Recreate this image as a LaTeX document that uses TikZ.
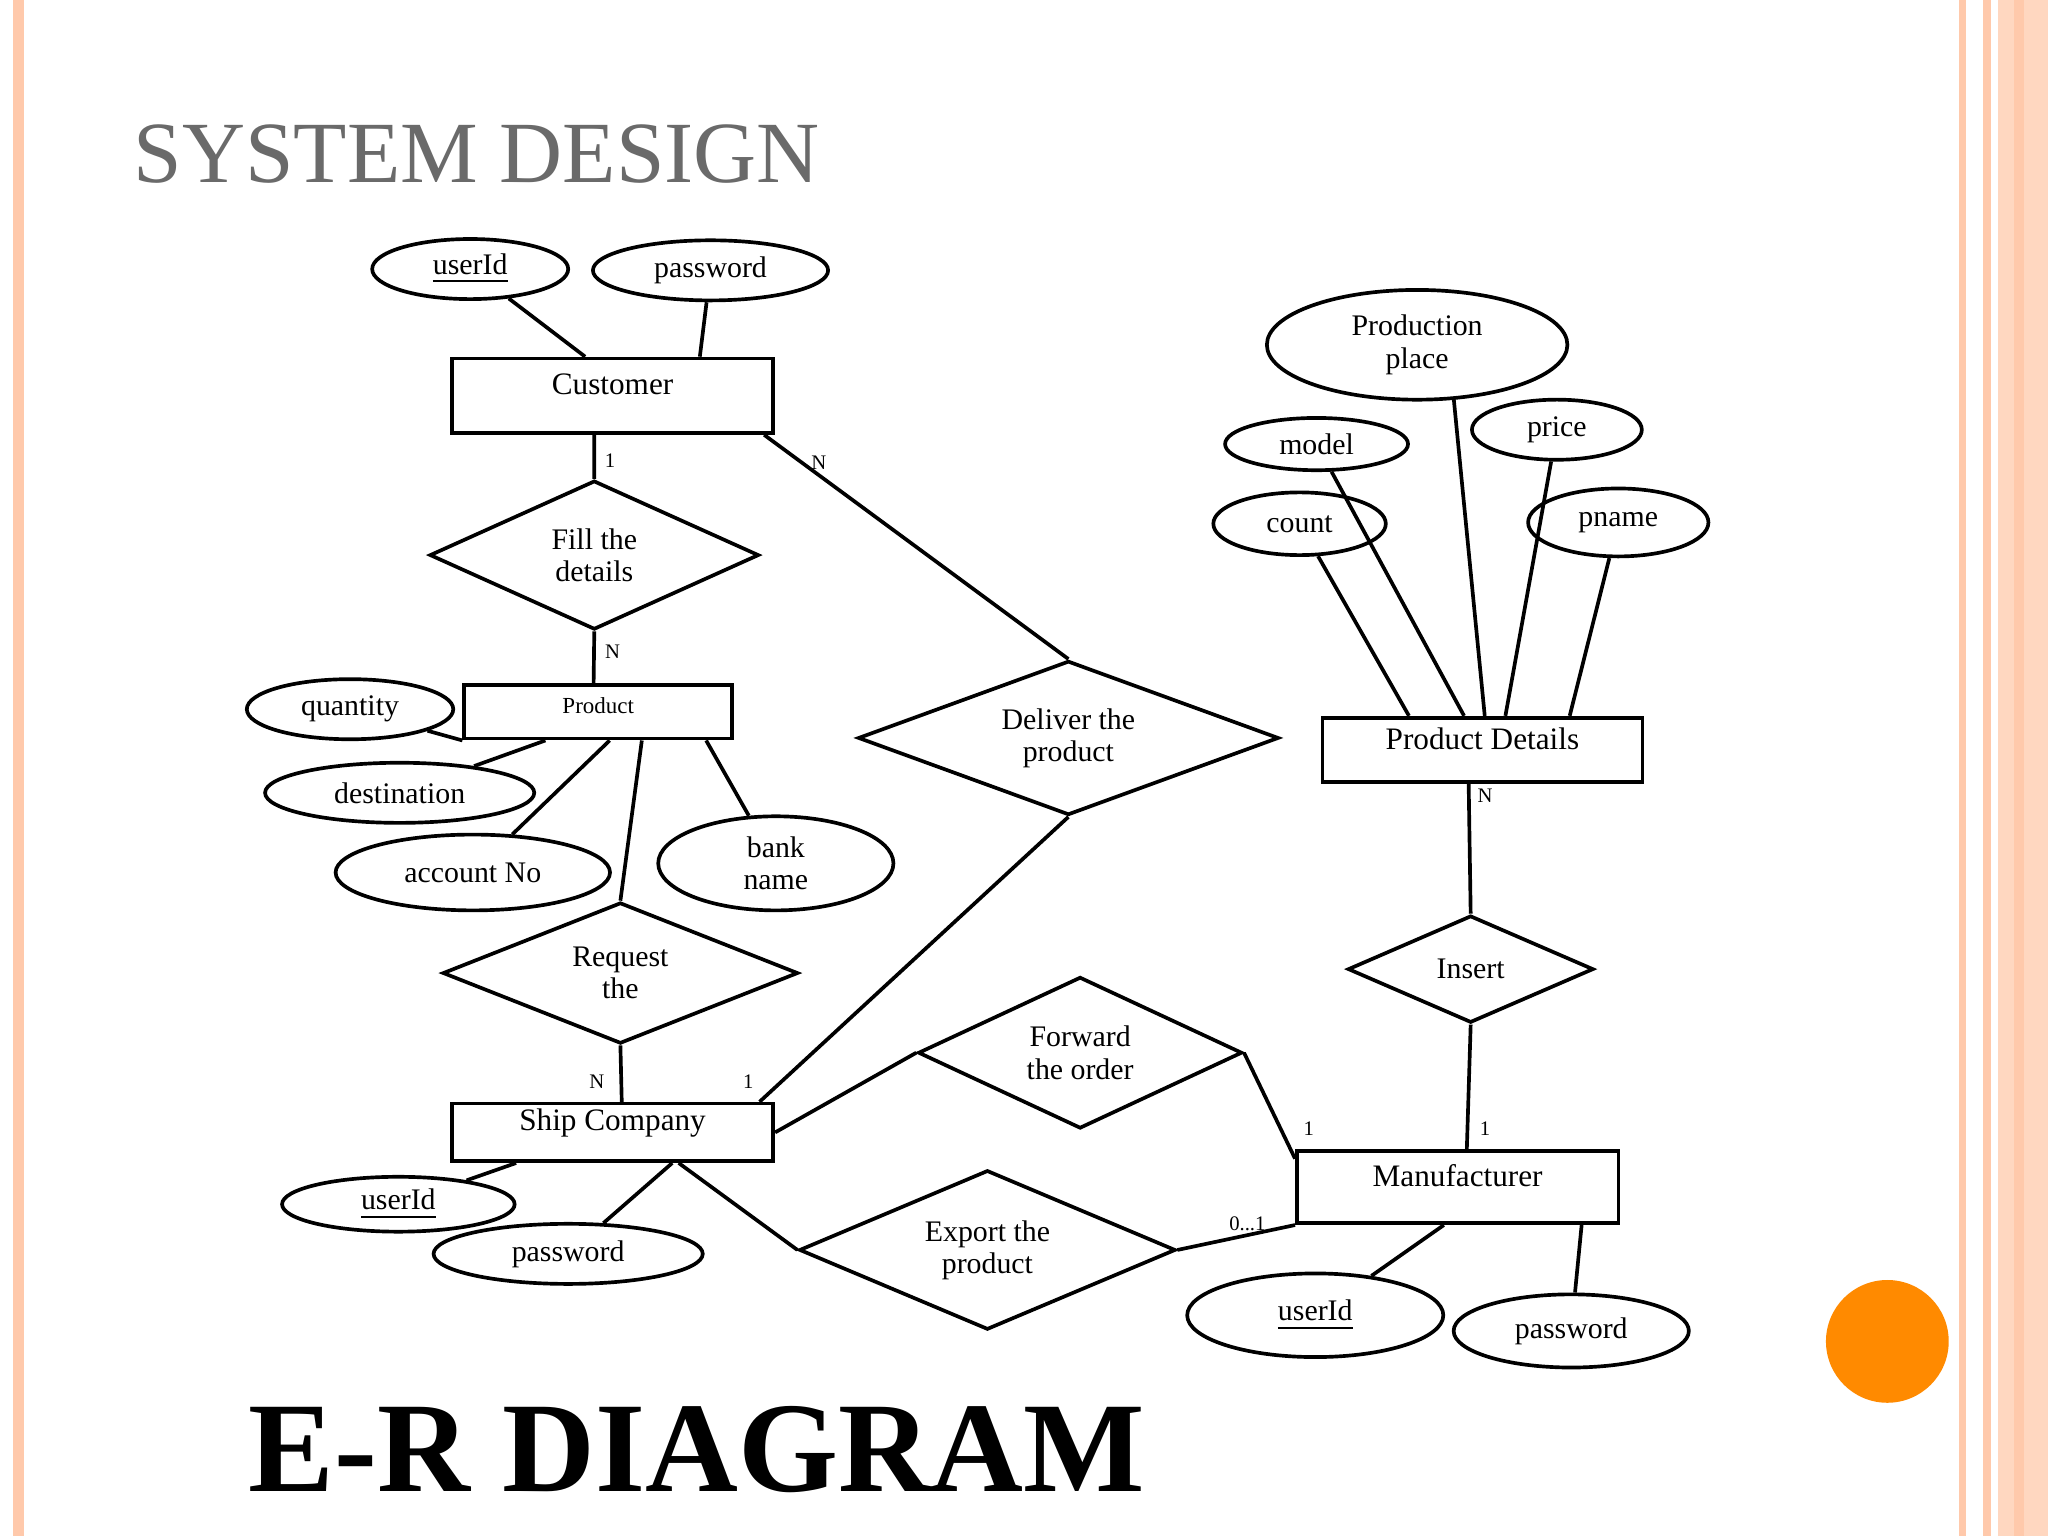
\documentclass[tikz,border=0pt]{standalone}
\usepackage{fontspec}
\setmainfont{Liberation Serif}
\usetikzlibrary{shapes.geometric}
\begin{document}
\begin{tikzpicture}[x=0.01cm,y=-0.01cm,
 ent/.style={draw,thick,rectangle,minimum width=#1,inner sep=0pt,font=\fontsize{6.8}{7}\selectfont},
 att/.style={draw,thick,ellipse,inner sep=0pt,font=\fontsize{6.5}{7}\selectfont,align=center},
 rel/.style={draw,thick,diamond,inner sep=0pt,aspect=2.2,font=\fontsize{6.5}{7}\selectfont,align=center},
 card/.style={font=\fontsize{4.5}{5}\selectfont},
 ln/.style={thick}]
\fill[white] (0,0) rectangle (1568,1176);
\useasboundingbox (0,0) rectangle (1568,1176);
% borders
\fill[orange!40!pink!60] (10,0) rectangle (18,1176);
\fill[orange!40!pink!60] (1500,0) rectangle (1505,1176);
\fill[orange!40!pink!60] (1518,0) rectangle (1524,1176);
\fill[orange!40!pink!45] (1530,0) rectangle (1568,1176);
\fill[orange!40!pink!60] (1542,0) rectangle (1550,1176);
\fill[orange!80!yellow!90!red] (1445,1027) circle (47);
\node[anchor=west,text=gray!70!black!90,font=\fontsize{19}{20}\selectfont] (title) at (90,118) {SYSTEM DESIGN};
\node[anchor=west,font=\bfseries\fontsize{28}{30}\selectfont] (er) at (178,1110) {E-R DIAGRAM};
% entities
\node[ent=246pt*0.2845,minimum height=57*0.2845pt] (cust) at (469,303) {};
\node at (469,294) {\fontsize{6.8}{7}\selectfont Customer};
\node[ent=205*0.2845pt,minimum height=41*0.2845pt] (prod) at (458,545) {};
\node at (458,540) {\fontsize{5}{6}\selectfont Product};
\node[ent=246*0.2845pt,minimum height=44*0.2845pt] (ship) at (469,867) {};
\node at (469,860) {\fontsize{6.8}{7}\selectfont Ship Company};
\node[ent=246*0.2845pt,minimum height=55*0.2845pt] (man) at (1116,909) {};
\node at (1116,900) {\fontsize{6.8}{7}\selectfont Manufacturer};
\node[ent=245*0.2845pt,minimum height=49*0.2845pt] (pd) at (1135,574) {};
\node at (1135,566) {\fontsize{6.8}{7}\selectfont Product Details};
% attributes
\node[att,minimum width=150*0.2845pt,minimum height=46*0.2845pt] (cu) at (360,206) {\underline{userId}};
\node[att,minimum width=180*0.2845pt,minimum height=46*0.2845pt] (cp) at (544,207) {password};
\node[att,minimum width=158*0.2845pt,minimum height=46*0.2845pt] (qty) at (268,543) {quantity};
\node[att,minimum width=206*0.2845pt,minimum height=46*0.2845pt] (dest) at (306,607) {destination};
\node[att,minimum width=210*0.2845pt,minimum height=58*0.2845pt] (acc) at (362,668) {account No};
\node[att,minimum width=180*0.2845pt,minimum height=72*0.2845pt] (bank) at (594,661) {bank\\name};
\node[att,minimum width=178*0.2845pt,minimum height=42*0.2845pt] (su) at (305,922) {\underline{userId}};
\node[att,minimum width=206*0.2845pt,minimum height=46*0.2845pt] (sp) at (435,960) {password};
\node[att,minimum width=196*0.2845pt,minimum height=64*0.2845pt] (mu) at (1007,1007) {\underline{userId}};
\node[att,minimum width=180*0.2845pt,minimum height=56*0.2845pt] (mp) at (1203,1019) {password};
\node[att,minimum width=230*0.2845pt,minimum height=84*0.2845pt] (pp) at (1085,264) {Production\\place};
\node[att,minimum width=140*0.2845pt,minimum height=40*0.2845pt] (model) at (1008,340) {model};
\node[att,minimum width=130*0.2845pt,minimum height=46*0.2845pt] (price) at (1192,329) {price};
\node[att,minimum width=132*0.2845pt,minimum height=48*0.2845pt] (count) at (995,401) {count};
\node[att,minimum width=138*0.2845pt,minimum height=52*0.2845pt] (pname) at (1239,400) {pname};
% relationships
\node[rel,minimum width=252*0.2845pt,minimum height=114*0.2845pt] (fill) at (455,425) {Fill the\\details};
\node[rel,minimum width=272*0.2845pt,minimum height=108*0.2845pt] (req) at (475,745) {Request\\the};
\node[rel,minimum width=322*0.2845pt,minimum height=118*0.2845pt] (del) at (818,565) {Deliver the\\product};
\node[rel,minimum width=248*0.2845pt,minimum height=116*0.2845pt] (fwd) at (827,806) {Forward\\the order};
\node[rel,minimum width=288*0.2845pt,minimum height=122*0.2845pt] (exp) at (756,957) {Export the\\product};
\node[rel,minimum width=188*0.2845pt,minimum height=82*0.2845pt] (ins) at (1126,742) {Insert};
% lines
\draw[ln] (cu) -- ([xshift=-21pt*0.2845]cust.north);
\draw[ln] (cp) -- ([xshift=19pt]cust.north);
\draw[ln] ([xshift=-4pt]cust.south) -- (fill.north);
\draw[ln] (fill.south) -- ([xshift=-1pt]prod.north);
\draw[ln] ([xshift=33pt]cust.south) -- (del.north);
\draw[ln] (del.south) -- ([xshift=32pt]ship.north);
\draw[ln] ([xshift=9.5pt]prod.south) -- (req.north);
\draw[ln] (req.south) -- ([xshift=2pt]ship.north);
\draw[ln] (qty) -- (prod.south west);
\draw[ln] (dest) -- ([xshift=-11.5pt]prod.south);
\draw[ln] (acc) -- ([xshift=2.5pt]prod.south);
\draw[ln] (bank) -- ([xshift=23.5pt]prod.south);
\draw[ln] ([yshift=0pt]ship.east) -- (fwd.west);
\draw[ln] (fwd.east) -- ([yshift=-2pt]man.north west);
\draw[ln] ([xshift=-21pt]ship.south east) -- (exp.west);
\draw[ln] (exp.east) -- (man.south west);
\draw[ln] (su) -- ([xshift=-21pt]ship.south);
\draw[ln] (sp) -- ([xshift=13pt]ship.south);
\draw[ln] ([xshift=2pt]man.north) -- (ins.south);
\draw[ln] (ins.north) -- ([xshift=-3pt]pd.north |- pd.south);
\draw[ln] (mu) -- ([xshift=-3pt]man.south);
\draw[ln] (mp) -- ([xshift=27pt]man.south);
\draw[ln] (count) -- ([xshift=-16pt]pd.north);
\draw[ln] (model) -- ([xshift=-4pt]pd.north);
\draw[ln] (1113,305) -- ([xshift=0.5pt]pd.north);
\draw[ln] (price) -- ([xshift=5pt]pd.north);
\draw[ln] (pname) -- ([xshift=19pt]pd.north);
% cardinalities
\node[card] at (467,353) {1};
\node[card] at (469,499) {N};
\node[card] at (627,354) {N};
\node[card] at (573,828) {1};
\node[card] at (457,828) {N};
\node[card] at (1002,864) {1};
\node[card] at (1137,864) {1};
\node[card] at (955,937) {0...1};
\node[card] at (1137,609) {N};
\end{tikzpicture}
\end{document}
